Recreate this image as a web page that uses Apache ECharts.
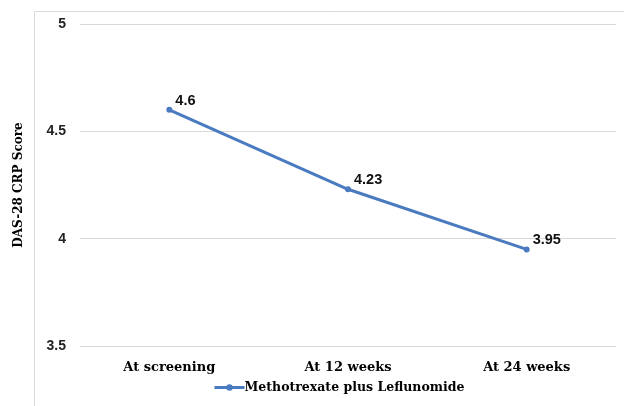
<!DOCTYPE html>
<html><head><meta charset="utf-8">
<script src="https://cdn.jsdelivr.net/npm/echarts@6/dist/echarts.min.js"></script>
<style>html,body{margin:0;padding:0;background:#fff}#c{width:624px;height:406px}</style>
</head><body><div id="c"></div>
<script>
const categories = ["At screening", "At 12 weeks", "At 24 weeks"];
const seriesName = "Methotrexate plus Leflunomide";
const values = [4.6, 4.23, 3.95];
const yTicks = [3.5, 4, 4.5, 5];
const yTitle = "DAS-28 CRP Score";

const chart = echarts.init(document.getElementById('c'));
chart.setOption({
  animation: false,
  graphic: [{
    type: 'rect', shape: {x: 34.5, y: 11.5, width: 700, height: 500},
    style: {fill: 'none', stroke: '#d9d9d9', lineWidth: 1}, silent: true
  }],
  grid: {left: 80, right: 8, top: 24, bottom: 60},
  legend: {
    bottom: 7, left: 208, itemWidth: 30, itemHeight: 8, itemGap: 0,
    textStyle: {fontFamily: 'DejaVu Serif', fontWeight: 'bold', fontSize: 12.5, color: '#000', padding: [0, 0, 0, -5]},
    lineStyle: {width: 3},
    data: [seriesName]
  },
  xAxis: {
    type: 'category', data: categories, boundaryGap: true,
    axisLine: {show: false}, axisTick: {show: false},
    axisLabel: {margin: 15, fontFamily: 'DejaVu Serif', fontWeight: 'bold', fontSize: 13, color: '#000'}
  },
  yAxis: {
    type: 'value', min: 3.5, max: 5, interval: 0.5,
    name: yTitle, nameLocation: 'middle', nameGap: 55, nameRotate: 90,
    nameTextStyle: {fontFamily: 'DejaVu Serif', fontWeight: 'bold', fontSize: 12, color: '#000'},
    axisLine: {show: false}, axisTick: {show: false},
    splitLine: {lineStyle: {color: '#d9d9d9', width: 1}},
    axisLabel: {margin: 14, fontFamily: 'Liberation Sans', fontWeight: 'bold', fontSize: 14, color: '#222',
      formatter: v => yTicks.includes(v) ? String(v) : ''}
  },
  series: [{
    name: seriesName, type: 'line', data: values,
    symbol: 'circle', symbolSize: 6,
    lineStyle: {color: '#4A7BC0', width: 3},
    itemStyle: {color: '#4A7BC0'},
    label: {show: true, position: 'right', offset: [-2, -9], fontFamily: 'Liberation Sans', fontWeight: 'bold', fontSize: 14.5, color: '#111'}
  }]
});
</script></body></html>
